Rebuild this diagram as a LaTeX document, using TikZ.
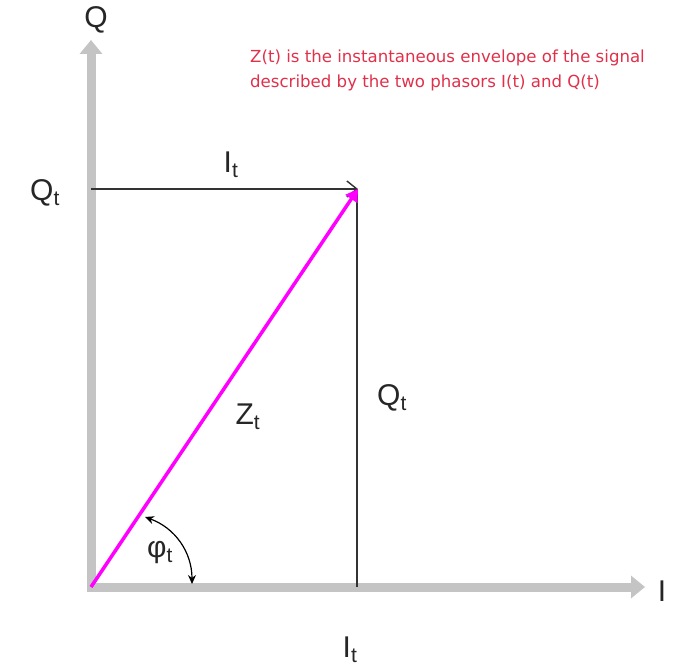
\documentclass[tikz,border=0pt]{standalone}
\usepackage{fontspec}
\setmainfont{Liberation Sans}
\newfontfamily\notefont{DejaVu Sans}
\usetikzlibrary{arrows.meta}
\definecolor{axisgray}{HTML}{C4C4C4}
\definecolor{notered}{HTML}{E0304A}
\definecolor{zmag}{HTML}{FF00FF}
\begin{document}
\begin{tikzpicture}[x=1pt,y=-1pt,
  axisline/.style={draw=axisgray,line width=9pt,-{Triangle[width=22pt,length=14pt]}},
  lbl/.style={inner sep=0pt,text=black!85,font=\fontsize{30}{32}\selectfont},
  thinline/.style={draw=black!80,line width=1.4pt},
  note/.style={text=notered,font=\notefont\fontsize{16.6}{25}\selectfont,align=left,anchor=base west,inner sep=0pt}]
\useasboundingbox (0,0) rectangle (673,671);
\coordinate (O) at (91,587);
\coordinate (Qtop) at (91,40);
\coordinate (Iend) at (645,587);
\coordinate (Q0) at (91,189);
\coordinate (P) at (358,189);
\coordinate (Pb) at (357,587);
\coordinate (A1) at (145,517);
\coordinate (A2) at (192,584);
% axes
\draw[axisline] (91,591) -- (Qtop);
\draw[axisline] (87,587) -- (Iend);
% labels
\node[lbl] (Ql) at (96,20) {Q};
\node[lbl] (Il) at (662,591) {I};
\node[lbl] (Qtl) at (45,193) {Q\textsubscript{t}};
\node[lbl] (Itt) at (231,165) {I\textsubscript{t}};
\node[lbl] (Qtr) at (392,398) {Q\textsubscript{t}};
\node[lbl] (Zt) at (248,417) {Z\textsubscript{t}};
\node[lbl] (Itb) at (350,650) {I\textsubscript{t}};
\node[lbl] (phi) at (160,553) {φ\textsubscript{t}};
\node[note] (txt1) at (250,63) {Z(t) is the instantaneous envelope of the signal};
\node[note] (txt2) at (250,88) {described by the two phasors I(t) and Q(t)};
% components
\draw[thinline] (Pb) -- (357,189);
\draw[thinline,-{Straight Barb[length=10pt,width=16pt]}] (Q0) -- (P);
\draw[zmag,line width=3.5pt,-{Triangle[width=14pt,length=12pt]}] (O) -- (P);
% angle
\draw[black,line width=1.2pt,{Stealth[length=9pt,width=8pt]}-{Stealth[length=9pt,width=8pt]}] (A1) to[bend left=35] (A2);
\end{tikzpicture}
\end{document}
